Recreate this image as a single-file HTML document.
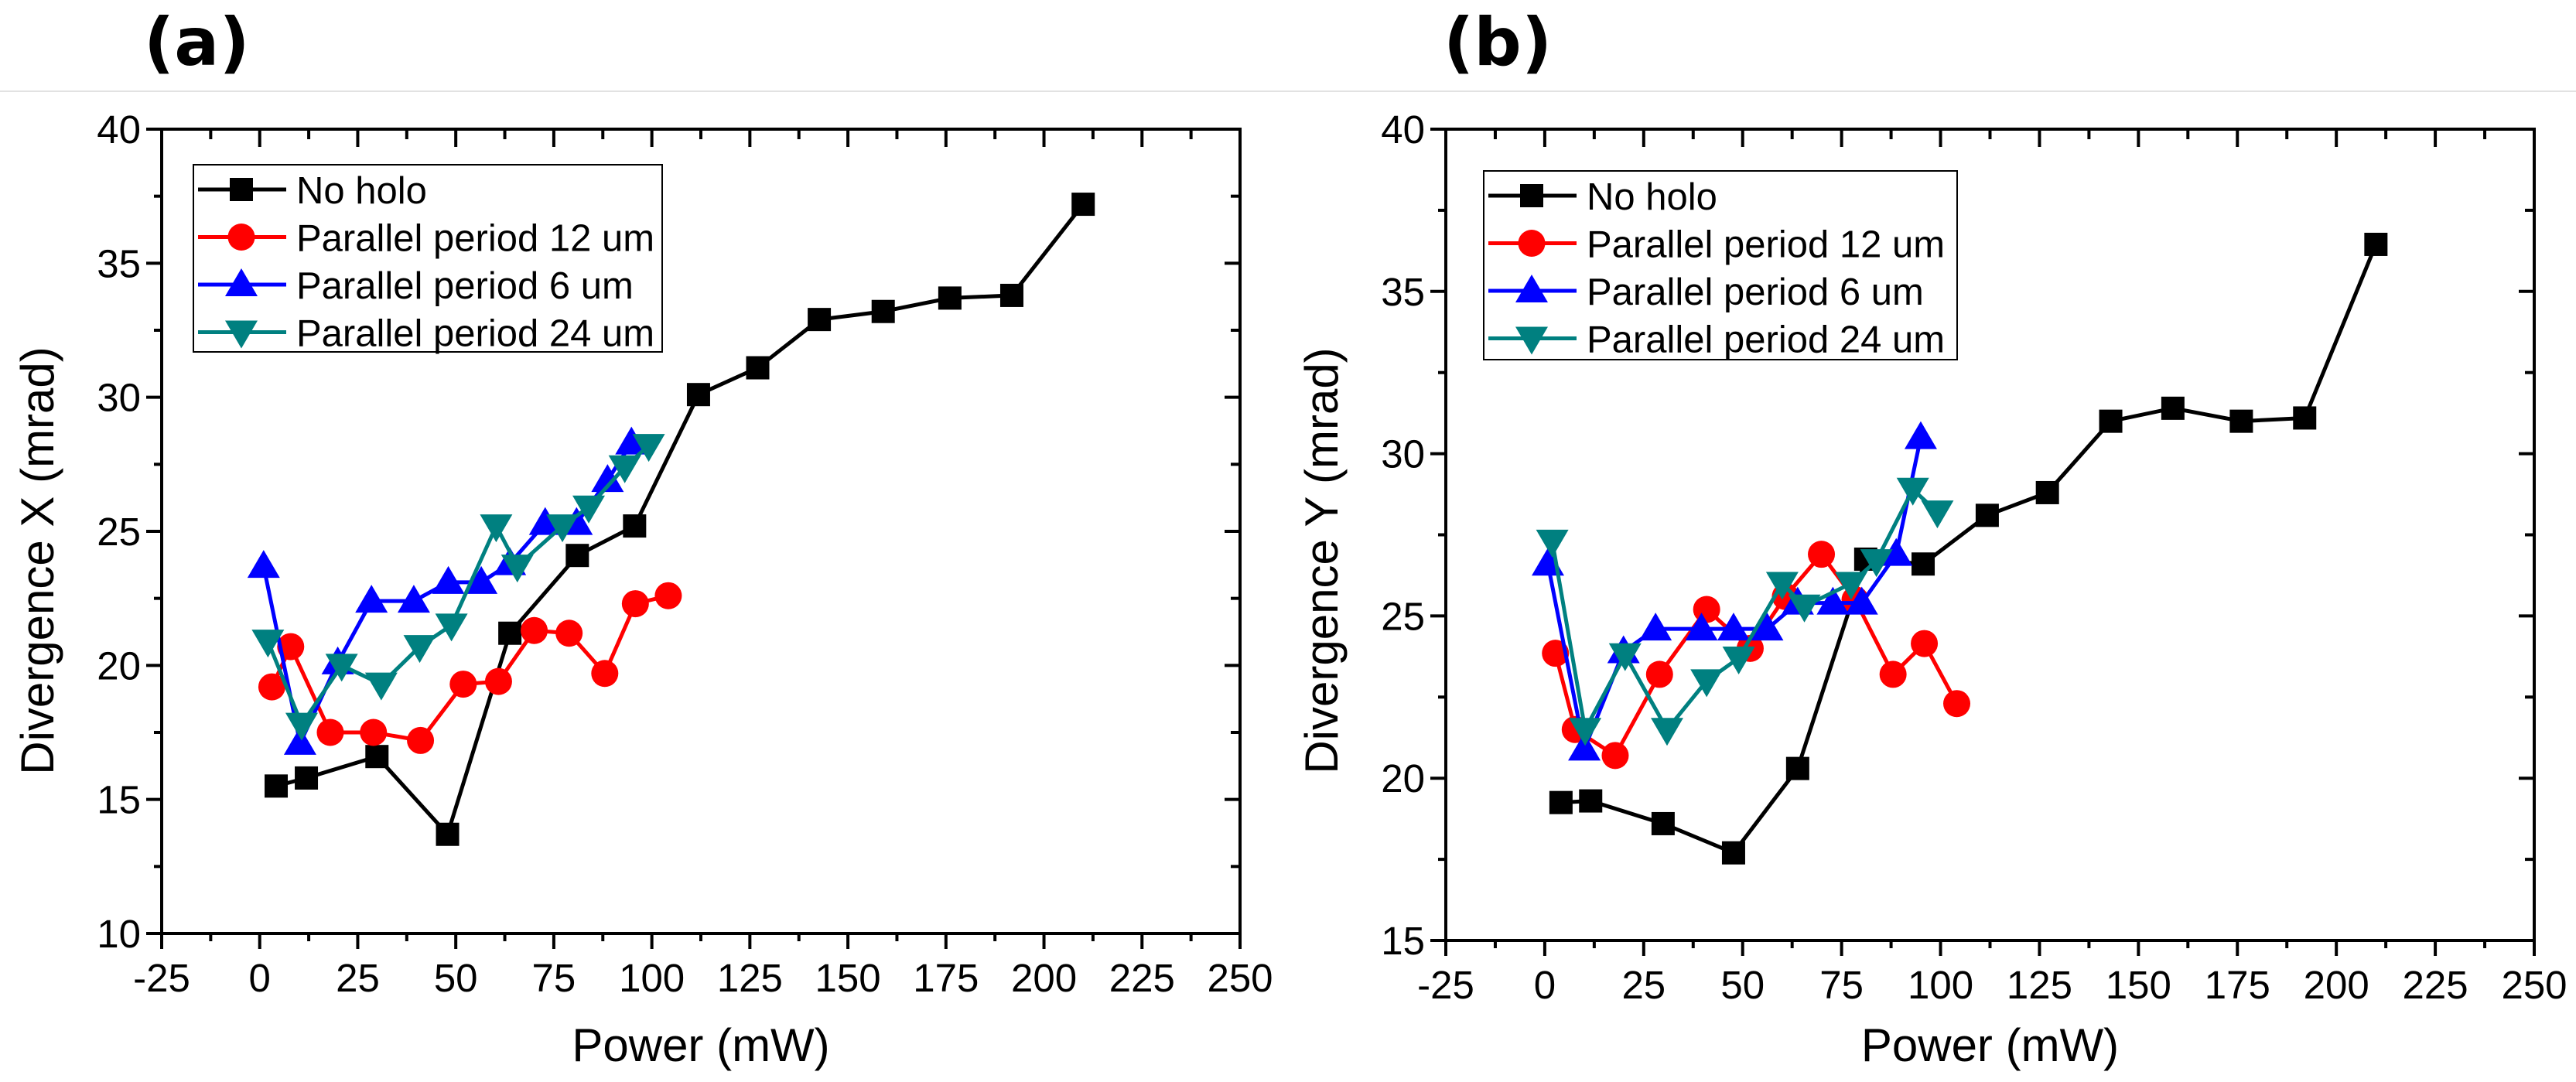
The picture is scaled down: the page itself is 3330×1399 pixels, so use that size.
<!DOCTYPE html>
<html><head><meta charset="utf-8"><style>
html,body{margin:0;padding:0;background:#fff;}
svg{display:block;font-family:"Liberation Sans",sans-serif;}
</style></head><body>
<svg id="chart" width="3330" height="1399" viewBox="0 0 3330 1399" xmlns="http://www.w3.org/2000/svg">
<line x1="0" y1="118" x2="3330" y2="118" stroke="#e2e2e2" stroke-width="2"/>
<text x="186" y="84" font-size="86" font-weight="bold" font-family="DejaVu Sans, sans-serif">(a)</text>
<text x="1866" y="84" font-size="86" font-weight="bold" font-family="DejaVu Sans, sans-serif">(b)</text>
</svg>
<script>
const xTicks=[-25,0,25,50,75,100,125,150,175,200,225,250];
const seriesNames=["No holo","Parallel period 12 um","Parallel period 6 um","Parallel period 24 um"];
// Panel (a) Divergence X
const aBlackX=[4.2,11.9,29.9,47.9,63.8,81,95.6,111.9,127,142.7,159,176,191.8,210];
const aBlackY=[15.5,15.8,16.6,13.7,21.2,24.1,25.2,30.1,31.1,32.9,33.2,33.7,33.8,37.2];
const aRedX=[3.1,7.9,18,29,41,51.9,60.9,70,78.9,88,95.8,104.2];
const aRedY=[19.2,20.7,17.5,17.5,17.2,19.3,19.4,21.3,21.2,19.7,22.3,22.6];
const aBlueX=[1,10.3,19.9,28.5,39.3,48.1,56.5,63.8,72.8,80.8,88.7,94.8];
const aBlueY=[23.7,17.1,20.1,22.4,22.4,23.1,23.1,23.8,25.3,25.3,26.9,28.3];
const aTealX=[2.1,10.7,20.9,31,40.8,48.9,60.3,65.7,77.2,83.9,93.1,99.2];
const aTealY=[20.9,17.8,20.0,19.3,20.7,21.5,25.2,23.7,25.2,25.9,27.4,28.2];
const aYTicks=[10,15,20,25,30,35,40];
// Panel (b) Divergence Y
const bBlackX=[4.1,11.6,29.9,47.7,63.9,81.1,95.6,111.8,127,143,158.7,176,192,210];
const bBlackY=[19.25,19.3,18.6,17.7,20.3,26.75,26.6,28.1,28.8,31.0,31.4,31.0,31.1,36.45];
const bRedX=[2.7,7.7,17.8,29,40.9,51.9,60.8,69.9,78.4,88,95.9,104.1];
const bRedY=[23.85,21.5,20.7,23.2,25.2,24.0,25.6,26.9,25.5,23.2,24.15,22.3];
const bBlueX=[0.8,10,19.9,28,39.6,47.7,56.2,63.9,72.8,80.1,88.8,95];
const bBlueY=[26.6,20.9,23.9,24.6,24.6,24.6,24.6,25.4,25.4,25.4,26.9,30.5];
const bTealX=[1.9,10.2,20.3,30.9,40.9,49,60,65.6,77.4,83.8,93,99.2];
const bTealY=[27.3,21.5,23.8,21.5,23.0,23.7,26.0,25.3,26.0,26.7,28.9,28.2];
const bYTicks=[15,20,25,30,35,40];

const NS="http://www.w3.org/2000/svg";
const svg=document.getElementById('chart');
const colors=["#000000","#ff0000","#0000ff","#008080"];
const shapes=["square","circle","up","down"];
function mk(tag,attrs,parent){const e=document.createElementNS(NS,tag);for(const k in attrs)e.setAttribute(k,attrs[k]);(parent||svg).appendChild(e);return e;}
function marker(g,shape,cx,cy,color){
  let e;
  if(shape==="square"){e=mk('rect',{x:cx-15,y:cy-15,width:30,height:30,fill:color},g);}
  else if(shape==="circle"){e=mk('circle',{cx:cx,cy:cy,r:17.5,fill:color},g);}
  else if(shape==="up"){e=mk('polygon',{points:`${cx},${cy-21} ${cx+21},${cy+15} ${cx-21},${cy+15}`,fill:color},g);}
  else {e=mk('polygon',{points:`${cx},${cy+21} ${cx+21},${cy-15} ${cx-21},${cy-15}`,fill:color},g);}
  return e;
}
function panel(id,L,R,T,B,yMin,yMax,yTicks,yTitle,data,leg){
  const sx=v=>L+(v-(-25))/(275)*(R-L);
  const sy=v=>B-(v-yMin)/(yMax-yMin)*(B-T);
  const g=mk('g',{});
  
  
  for(let i=0;i<xTicks.length;i++){
    const v=xTicks[i],x=sx(v);
    const t=mk('line',{x1:x,y1:B,x2:x,y2:B+20,stroke:'#000','stroke-width':4},g);
    
    
    mk('line',{x1:x,y1:T,x2:x,y2:T+23,stroke:'#000','stroke-width':4},g);
    const lb=mk('text',{x:x,y:B+75,'font-size':51,'text-anchor':'middle'},g);
    lb.textContent=v;
    
    
    if(i<xTicks.length-1){const xm=sx(v+12.5);
      mk('line',{x1:xm,y1:B,x2:xm,y2:B+10,stroke:'#000','stroke-width':4},g);
      mk('line',{x1:xm,y1:T,x2:xm,y2:T+13,stroke:'#000','stroke-width':4},g);}
  }
  for(let i=0;i<yTicks.length;i++){
    const v=yTicks[i],y=sy(v);
    const t=mk('line',{x1:L-20,y1:y,x2:L,y2:y,stroke:'#000','stroke-width':4},g);
    
    
    mk('line',{x1:R-20,y1:y,x2:R,y2:y,stroke:'#000','stroke-width':4},g);
    const lb=mk('text',{x:L-27,y:y+18,'font-size':51,'text-anchor':'end'},g);
    lb.textContent=v;
    
    
    if(i<yTicks.length-1){const ym=sy(v+2.5);
      mk('line',{x1:L-10,y1:ym,x2:L,y2:ym,stroke:'#000','stroke-width':4},g);
      mk('line',{x1:R-12,y1:ym,x2:R,y2:ym,stroke:'#000','stroke-width':4},g);}
  }
  const frame=mk('rect',{x:L,y:T,width:R-L,height:B-T,fill:'none',stroke:'#000','stroke-width':4},g);
  
  
  const xt=mk('text',{x:(L+R)/2,y:1372,'font-size':60,'text-anchor':'middle'},g);
  xt.textContent='Power (mW)';
  
  
  const ycx=L-140,ycy=725;
  const yt=mk('text',{x:ycx,y:ycy,'font-size':60,'text-anchor':'middle',transform:`rotate(-90 ${ycx} ${ycy})`},g);
  yt.textContent=yTitle;
  
  
  for(let s=0;s<data.length;s++){
    const xs=data[s][0],ys=data[s][1];
    const sg=mk('g',{},g);
    
    
    const pts=xs.map((x,i)=>sx(x)+','+sy(ys[i])).join(' ');
    const pl=mk('polyline',{points:pts,fill:'none',stroke:colors[s],'stroke-width':5},sg);
    
    
    for(let i=0;i<xs.length;i++){
      const m=marker(sg,shapes[s],sx(xs[i]),sy(ys[i]),colors[s]);
      
      
    }
  }
  const lg=mk('g',{},g);
  
  
  mk('rect',{x:leg[0],y:leg[1],width:leg[2],height:leg[3],fill:'#fff',stroke:'#000','stroke-width':2},lg);
  for(let s=0;s<4;s++){
    const cy=leg[1]+32+s*61.5;
    const e=mk('g',{},lg);
    
    
    mk('line',{x1:leg[0]+6,y1:cy,x2:leg[0]+120,y2:cy,stroke:colors[s],'stroke-width':5},e);
    marker(e,shapes[s],leg[0]+62,cy,colors[s]);
    const t=mk('text',{x:leg[0]+133,y:cy+18,'font-size':49},e);
    t.textContent=seriesNames[s];
  }
}
panel('a',209,1603,167,1207,10,40,aYTicks,'Divergence X (mrad)',
  [[aBlackX,aBlackY],[aRedX,aRedY],[aBlueX,aBlueY],[aTealX,aTealY]],[250,213,606,242]);
panel('b',1869,3276,167,1216,15,40,bYTicks,'Divergence Y (mrad)',
  [[bBlackX,bBlackY],[bRedX,bRedY],[bBlueX,bBlueY],[bTealX,bTealY]],[1918,221,612,244]);
</script>
</body></html>
